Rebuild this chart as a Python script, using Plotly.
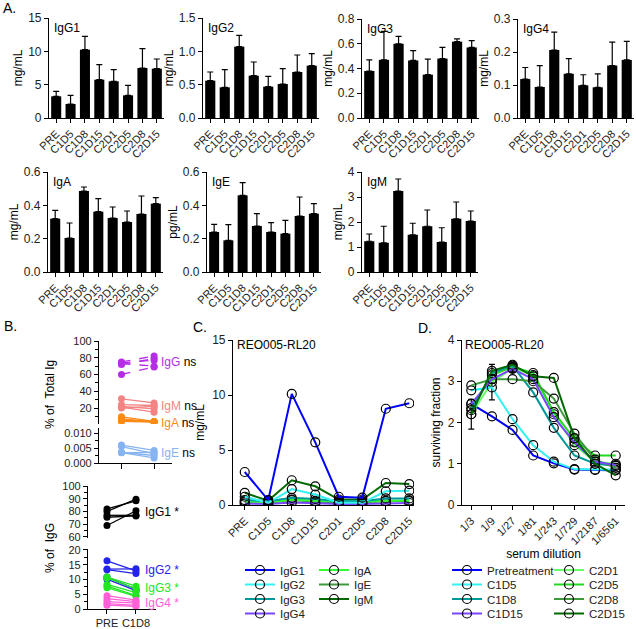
import plotly.graph_objects as go

W, H = 636, 629

visits = ["PRE", "C1D5", "C1D8", "C1D15", "C2D1", "C2D5", "C2D8", "C2D15"]

# A: group means and upper end of error bars
igg1_mean = [3.25, 2.1, 10.25, 5.75, 5.5, 3.4, 7.5, 7.4]
igg1_top = [4.0, 3.4, 12.25, 8.0, 7.25, 4.9, 10.4, 8.85]
igg2_mean = [0.56, 0.46, 1.07, 0.635, 0.47, 0.51, 0.69, 0.785]
igg2_top = [0.69, 0.725, 1.24, 0.84, 0.625, 0.74, 0.945, 0.965]
igg3_mean = [0.38, 0.47, 0.60, 0.465, 0.35, 0.48, 0.617, 0.57]
igg3_top = [0.47, 0.70, 0.66, 0.545, 0.475, 0.57, 0.64, 0.625]
igg4_mean = [0.118, 0.094, 0.206, 0.134, 0.099, 0.093, 0.159, 0.176]
igg4_top = [0.153, 0.159, 0.26, 0.18, 0.131, 0.134, 0.23, 0.232]
iga_mean = [0.32, 0.204, 0.486, 0.362, 0.324, 0.30, 0.348, 0.41]
iga_top = [0.37, 0.294, 0.51, 0.44, 0.39, 0.366, 0.456, 0.446]
ige_mean = [0.24, 0.19, 0.46, 0.276, 0.24, 0.23, 0.336, 0.35]
ige_top = [0.286, 0.284, 0.536, 0.35, 0.296, 0.31, 0.45, 0.41]
igm_mean = [1.23, 1.17, 3.24, 1.49, 1.83, 1.2, 2.13, 2.04]
igm_top = [1.52, 1.83, 3.72, 1.95, 2.48, 1.77, 2.8, 2.44]

# B: paired PRE / C1D8 per patient
b_igg_pre = [75, 74, 73, 72, 60]
b_igg_c1d8 = [82, 77, 70, 79, 69]
b_igm_pre = [31, 24, 21, 20, 22]
b_igm_c1d8 = [26, 23, 15, 22, 19]
b_iga_pre = [9.5, 7.0, 6.0, 5.0, 4.0]
b_iga_c1d8 = [4.0, 3.5, 3.6, 3.8, 3.2]
b_ige_pre = [0.0060, 0.0055, 0.0035, 0.0034, 0.0036]
b_ige_c1d8 = [0.0042, 0.0031, 0.0017, 0.0036, 0.0025]
b_igg1_pre = [82, 80, 77, 75.5, 69]
b_igg1_c1d8 = [88.4, 89.7, 77, 76.5, 80.6]
b_igg2_pre = [16.3, 13.5, 13.3, 10.8, 10.1]
b_igg2_c1d8 = [12.9, 13.6, 12.0, 6.7, 6.2]
b_igg3_pre = [10.8, 10.5, 8.3, 7.8, 7.2]
b_igg3_c1d8 = [7.7, 6.8, 5.5, 4.5, 4.3]
b_igg4_pre = [4.5, 3.5, 2.5, 1.8, 1.3]
b_igg4_c1d8 = [3.0, 2.5, 2.0, 1.2, 0.9]

# C: one patient over time (mg/mL)
c_igg1 = [3.0, 0.45, 10.1, 5.7, 0.75, 0.67, 8.75, 9.25]
c_igg2 = [0.75, 0.2, 1.45, 0.95, 0.2, 0.2, 1.25, 1.3]
c_igg3 = [0.45, 0.35, 0.65, 0.55, 0.35, 0.35, 0.6, 0.6]
c_igg4 = [0.12, 0.1, 0.22, 0.14, 0.1, 0.1, 0.17, 0.18]
c_iga = [0.33, 0.22, 0.5, 0.38, 0.33, 0.3, 0.38, 0.42]
c_ige = [0.25, 0.2, 0.45, 0.3, 0.25, 0.23, 0.35, 0.36]
c_igm = [1.1, 0.4, 2.25, 1.7, 0.5, 0.5, 2.0, 1.9]

# D: surviving fraction vs serum dilution
dilutions = ["1/3", "1/9", "1/27", "1/81", "1/243", "1/729", "1/2187", "1/6561"]
d_pre = [2.45, 2.15, 1.82, 1.20, 1.01, 0.86, 0.85, 0.84]
d_c1d5 = [2.78, 2.85, 2.08, 1.45, 1.05, 0.87, 0.86, 0.86]
d_c1d8 = [2.30, 3.20, 3.38, 2.73, 1.87, 1.20, 1.00, 0.95]
d_c1d15 = [2.45, 3.05, 3.30, 3.05, 2.13, 1.52, 1.05, 0.97]
d_c2d1 = [2.20, 2.98, 3.32, 3.15, 2.20, 1.45, 1.05, 1.00]
d_c2d1_err = [0.36, 0.43, 0.10, 0, 0, 0, 0, 0]
d_c2d5 = [2.35, 3.15, 3.35, 3.20, 2.25, 1.60, 1.20, 1.20]
d_c2d8 = [2.90, 3.05, 3.05, 3.00, 2.58, 1.73, 1.10, 0.90]
d_c2d15 = [2.20, 3.25, 3.40, 3.12, 3.08, 1.62, 1.00, 0.72]

FONT = "Arial, Liberation Sans, sans-serif"


def xd(a, b):
    return [a / W, b / W]


def yd(top, bot):
    return [1 - bot / H, 1 - top / H]


def sfx(n):
    return "" if n == 1 else str(n)


def ax(**kw):
    d = dict(showline=True, linecolor="black", linewidth=1.2, ticks="outside",
             ticklen=4, tickwidth=1.2, tickcolor="black", showgrid=False,
             zeroline=False, tickfont=dict(size=12, color="#222"))
    d.update(kw)
    return d


XT = dict(size=11, color="#222")
BT = dict(size=11, color="#222")

fig = go.Figure()
layout = {}
annotations = []

# ---- panel A
panels = [
    ("IgG1", igg1_mean, igg1_top, "mg/mL", 15, 5, "", (49, 164, 18, 118)),
    ("IgG2", igg2_mean, igg2_top, "mg/mL", 1.5, 0.5, ".1f", (203, 319, 18, 118)),
    ("IgG3", igg3_mean, igg3_top, "mg/mL", 0.8, 0.2, ".1f", (362, 479, 19, 118)),
    ("IgG4", igg4_mean, igg4_top, "mg/mL", 0.3, 0.1, ".1f", (518, 634, 19, 118)),
    ("IgA", iga_mean, iga_top, "mg/mL", 0.6, 0.2, ".1f", (48, 163, 172, 272)),
    ("IgE", ige_mean, ige_top, "pg/mL", 0.6, 0.2, ".1f", (207, 321, 172, 272)),
    ("IgM", igm_mean, igm_top, "mg/mL", 4, 1, "", (362, 478, 172, 272)),
]
for i, (name, mean, top, unit, ymax, dt, fmt, box) in enumerate(panels):
    n = i + 1
    x0, x1, t, b = box
    fig.add_trace(go.Bar(
        x=visits, y=mean, xaxis="x" + sfx(n), yaxis="y" + sfx(n),
        marker_color="black", marker_line_width=0, width=0.7, showlegend=False,
        error_y=dict(type="data", symmetric=False,
                     array=[tp - m for tp, m in zip(top, mean)],
                     arrayminus=[0] * len(mean), color="black",
                     thickness=1.2, width=3)))
    layout["xaxis" + sfx(n)] = ax(domain=xd(x0, x1), anchor="y" + sfx(n),
                                  range=[-0.5, 7.5], tickangle=-45, tickfont=XT)
    layout["yaxis" + sfx(n)] = ax(domain=yd(t, b), anchor="x" + sfx(n),
                                  range=[0, ymax], dtick=dt, tickformat=fmt,
                                  title=dict(text=unit, font=dict(size=12), standoff=2))
    annotations.append(dict(text=name, x=(x0 + 3) / W, y=1 - (t + 1) / H,
                            xref="paper", yref="paper", xanchor="left",
                            yanchor="top", showarrow=False, font=dict(size=12)))


def pair_xy(pre, post):
    xs, ys = [], []
    for a, b in zip(pre, post):
        xs += [0, 1, None]
        ys += [a, b, None]
    return xs, ys


# ---- panel B top (% of total Ig), broken axis
for pre, post, col, yaxis, dash in [
    (b_igg_pre, b_igg_c1d8, "#b52ee6", "y8", "dash"),
    (b_igm_pre, b_igm_c1d8, "#f48383", "y8", "solid"),
    (b_iga_pre, b_iga_c1d8, "#fb8a14", "y8", "solid"),
    (b_ige_pre, b_ige_c1d8, "#86b4f2", "y9", "solid"),
]:
    xs, ys = pair_xy(pre, post)
    fig.add_trace(go.Scatter(x=xs, y=ys, xaxis="x8", yaxis=yaxis, mode="lines+markers",
                             line=dict(color=col, width=1.3, dash=dash),
                             marker=dict(color=col, size=7), showlegend=False))

MINOR = dict(ticks="outside", ticklen=3, tickcolor="black", tickwidth=1)
layout["xaxis8"] = ax(domain=xd(99, 172), anchor="y9", range=[-0.69, 1.55],
                      tickvals=[0, 1], showticklabels=False, ticklen=5)
layout["yaxis8"] = ax(domain=yd(341, 424), anchor="x8", range=[0.9, 100],
                      tickvals=[20, 40, 60, 80, 100], minor=dict(MINOR, dtick=10),
                      tickfont=BT)
layout["yaxis9"] = ax(domain=yd(428, 463), anchor="x8", range=[0, 0.0117],
                      tickvals=[0, 0.005, 0.01], tickformat=".3f",
                      minor=dict(MINOR, dtick=0.0025), tickfont=BT)

# ---- panel B bottom (% of IgG), broken axis
for pre, post, col, yaxis in [
    (b_igg1_pre, b_igg1_c1d8, "black", "y10"),
    (b_igg2_pre, b_igg2_c1d8, "#2424e8", "y11"),
    (b_igg3_pre, b_igg3_c1d8, "#22e622", "y11"),
    (b_igg4_pre, b_igg4_c1d8, "#ff5fd6", "y11"),
]:
    xs, ys = pair_xy(pre, post)
    fig.add_trace(go.Scatter(x=xs, y=ys, xaxis="x9", yaxis=yaxis, mode="lines+markers",
                             line=dict(color=col, width=1.3),
                             marker=dict(color=col, size=7), showlegend=False))

layout["xaxis9"] = ax(domain=xd(88, 156), anchor="y11", range=[-0.655, 1.69],
                      tickvals=[0, 1], ticktext=["PRE", "C1D8"], ticklen=4,
                      tickfont=BT)
layout["yaxis10"] = ax(domain=yd(486, 538), anchor="x9", range=[59.2, 100],
                       tickvals=[60, 70, 80, 90, 100], minor=dict(MINOR, dtick=5),
                       tickfont=BT)
layout["yaxis11"] = ax(domain=yd(549, 609), anchor="x9", range=[0, 20.3],
                       tickvals=[0, 5, 10, 15, 20], minor=dict(MINOR, dtick=2.5),
                       tickfont=BT)

# ---- panel C
c_series = [
    ("IgG1", c_igg1, "#0000ff", "legend"),
    ("IgA", c_iga, "#33ff33", "legend"),
    ("IgG2", c_igg2, "#33f2f2", "legend2"),
    ("IgE", c_ige, "#3c9a3c", "legend2"),
    ("IgG3", c_igg3, "#00999a", "legend3"),
    ("IgM", c_igm, "#006a00", "legend3"),
    ("IgG4", c_igg4, "#7a45ff", "legend4"),
]
draw_order = ["IgM", "IgE", "IgA", "IgG4", "IgG3", "IgG2", "IgG1"]
for name in draw_order:
    k = [s[0] for s in c_series].index(name)
    _, vals, col, leg = c_series[k]
    fig.add_trace(go.Scatter(
        x=visits, y=vals, name=name, xaxis="x10", yaxis="y12", mode="lines+markers",
        line=dict(color=col, width=2),
        marker=dict(symbol="circle", size=9, color="rgba(0,0,0,0)",
                    line=dict(color="black", width=1.2)),
        legend=leg, legendrank=k))

layout["xaxis10"] = ax(domain=xd(233, 414), anchor="y12", range=[-0.5, 7.2],
                       tickangle=-45, tickfont=XT)
layout["yaxis12"] = ax(domain=yd(340, 505), anchor="x10", range=[0, 15], dtick=5,
                       title=dict(text="mg/mL", font=dict(size=12), standoff=4))

# ---- panel D
d_series = [
    ("Pretreatment", d_pre, "#0000ff", "legend5", None),
    ("C2D1", d_c2d1, "#66ff66", "legend5", d_c2d1_err),
    ("C1D5", d_c1d5, "#33f2f2", "legend6", None),
    ("C2D5", d_c2d5, "#22d822", "legend6", None),
    ("C1D8", d_c1d8, "#00999a", "legend7", None),
    ("C2D8", d_c2d8, "#3c9a3c", "legend7", None),
    ("C1D15", d_c1d15, "#7a45ff", "legend8", None),
    ("C2D15", d_c2d15, "#006a00", "legend8", None),
]
for k, (name, vals, col, leg, err) in enumerate(d_series):
    fig.add_trace(go.Scatter(
        x=dilutions, y=vals, name=name, xaxis="x11", yaxis="y13", mode="lines+markers",
        line=dict(color=col, width=2),
        marker=dict(symbol="circle", size=9, color="rgba(0,0,0,0)",
                    line=dict(color="black", width=1.2)),
        error_y=(dict(type="data", array=err, color="black", thickness=1.2, width=3)
                 if err else None),
        legend=leg, legendrank=k))

layout["xaxis11"] = ax(domain=xd(462, 625), anchor="y13", range=[-0.45, 7.45],
                       tickangle=-45, tickfont=XT,
                       title=dict(text="serum dilution", font=dict(size=12), standoff=2))
layout["yaxis13"] = ax(domain=yd(340, 505), anchor="x11", range=[0, 4], dtick=1,
                       title=dict(text="surviving fraction", font=dict(size=12), standoff=4))


# ---- text labels
def note(text, x, y, size=12, **kw):
    d = dict(text=text, x=x / W, y=1 - y / H, xref="paper", yref="paper",
             xanchor="left", yanchor="middle", showarrow=False,
             font=dict(size=size, color="black"))
    d.update(kw)
    annotations.append(d)


note("A.", 1, 8, size=14)
note("B.", 2, 326, size=14)
note("C.", 191, 327, size=14)
note("D.", 416, 328, size=14)
note("REO005-RL20", 235, 345)
note("REO005-RL20", 463, 345)

note('<span style="color:#b52ee6">IgG</span> ns', 159, 362)
note('<span style="color:#f48383">IgM</span> ns', 159, 406)
note('<span style="color:#fb8a14">IgA</span> ns', 159, 423)
note('<span style="color:#86b4f2">IgE</span> ns', 159, 453)
note("IgG1 *", 143, 512)
note('<span style="color:#2424e8">IgG2 *</span>', 143, 570)
note('<span style="color:#22e622">IgG3 *</span>', 143, 588)
note('<span style="color:#ff5fd6">IgG4 *</span>', 143, 603)
note("% of  Total Ig", 50, 395, textangle=-90, xanchor="center")
note("% of  IgG", 50, 548, textangle=-90, xanchor="center")

# one horizontal legend per legend row, so rows sit as close as in the original
leg_base = dict(orientation="h", yanchor="middle", xanchor="left",
                bgcolor="rgba(0,0,0,0)", font=dict(size=11.5, color="#222"),
                tracegroupgap=0, entrywidthmode="pixels")
rows_y = [570, 584.5, 599, 613.5]
legends = {}
for r, yy in enumerate(rows_y):
    legends["legend" + sfx(r + 1)] = dict(leg_base, x=240 / W, y=1 - yy / H,
                                          entrywidth=29)
    legends["legend" + str(r + 5)] = dict(leg_base, x=447 / W, y=1 - yy / H,
                                          entrywidth=57)

fig.update_layout(
    width=W, height=H,
    margin=dict(l=0, r=0, t=0, b=0, autoexpand=False),
    paper_bgcolor="white", plot_bgcolor="white",
    font=dict(family=FONT, size=12, color="black"),
    annotations=annotations,
    **legends,
    **layout,
)

fig.write_html("out.html", config={"displayModeBar": False},
               post_script="document.body.style.margin='0';")
